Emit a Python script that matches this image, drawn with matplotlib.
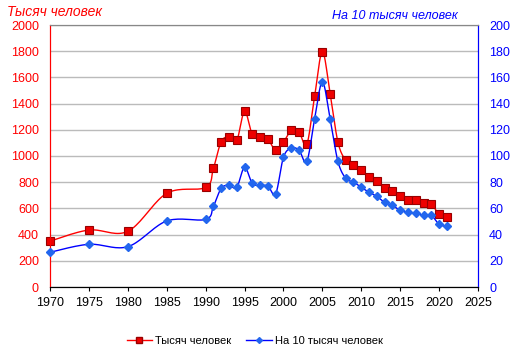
import numpy as np
import matplotlib
matplotlib.use("Agg")
from matplotlib import pyplot as plt

plt.rcParams['font.family'] = ['Liberation Sans', 'DejaVu Sans']

years = [1970, 1975, 1980, 1985, 1990, 1991, 1992, 1993, 1994, 1995, 1996, 1997,
         1998, 1999, 2000, 2001, 2002, 2003, 2004, 2005, 2006, 2007, 2008, 2009,
         2010, 2011, 2012, 2013, 2014, 2015, 2016, 2017, 2018, 2019, 2020, 2021]
thousands = [350, 435, 425, 715, 760, 906, 1109, 1145, 1119, 1340, 1165, 1145,
             1127, 1045, 1106, 1195, 1183, 1089, 1455, 1795, 1473, 1106, 967, 928,
             890, 837, 806, 753, 730, 692, 661, 661, 641, 633, 555, 532]
per_10k = [26.5, 32.6, 30.8, 50.4, 51.6, 61.6, 75.3, 77.6, 76.1, 91.3, 79.1, 77.6,
           77.1, 71.2, 99.0, 106.0, 104.5, 95.9, 128.0, 156.5, 128.0, 95.9, 83.0, 80.1,
           76.1, 72.3, 69.2, 64.6, 62.3, 58.5, 57.0, 56.2, 54.7, 54.7, 47.8, 46.3]
xticks = list(range(1970, 2030, 5))


def smooth(x, y, n=20):
    # Bezier smoothing between points, like a spreadsheet "smooth line"
    x = np.asarray(x, float)
    y = np.asarray(y, float)
    px, py = [], []
    for i in range(len(x) - 1):
        x0, y0 = (x[i - 1], y[i - 1]) if i > 0 else (x[i], y[i])
        x3, y3 = (x[i + 2], y[i + 2]) if i + 2 < len(x) else (x[i + 1], y[i + 1])
        c1x = x[i] + (x[i + 1] - x0) / 6
        c1y = y[i] + (y[i + 1] - y0) / 6
        c2x = x[i + 1] - (x3 - x[i]) / 6
        c2y = y[i + 1] - (y3 - y[i]) / 6
        t = np.linspace(0, 1, n)
        px.extend((1 - t) ** 3 * x[i] + 3 * (1 - t) ** 2 * t * c1x + 3 * (1 - t) * t ** 2 * c2x + t ** 3 * x[i + 1])
        py.extend((1 - t) ** 3 * y[i] + 3 * (1 - t) ** 2 * t * c1y + 3 * (1 - t) * t ** 2 * c2y + t ** 3 * y[i + 1])
    return px, py


fig = plt.figure(figsize=(5.23, 3.58), dpi=100)
ax = fig.add_axes([50 / 523, 1 - 287 / 358, 428 / 523, 262 / 358])
ax2 = ax.twinx()

sx, sy = smooth(years, thousands)
ax.plot(sx, sy, '-', color='#ff0000', lw=1, zorder=3)
ax.plot(years, thousands, 's', color='#ee0000', mec='#990000', mew=0.8, ms=6,
        zorder=4, clip_on=False)

bx, by = smooth(years, per_10k)
ax2.plot(bx, by, '-', color='#0000ff', lw=1, zorder=3)
ax2.plot(years, per_10k, 'D', color='#2266ee', mec='#2266ee', ms=4, zorder=4,
         clip_on=False)

ax.set_xlim(1970, 2025)
ax.set_ylim(0, 2000)
ax2.set_ylim(0, 200)
ax.set_xticks(xticks)
ax.set_yticks(range(0, 2001, 200))
ax2.set_yticks(range(0, 201, 20))
ax.yaxis.grid(True, color='#bbbbbb', lw=1)
ax.set_axisbelow(True)

ax.tick_params(axis='y', colors='#ff0000', labelsize=9, length=0, pad=8)
ax2.tick_params(axis='y', colors='#0000ff', labelsize=9, length=0, pad=8)
ax.tick_params(axis='x', colors='black', labelsize=9, length=3, direction='out', pad=4)
ax.spines['top'].set_color('#888888')
ax2.spines['top'].set_color('#888888')
ax.spines['left'].set_color('#ff0000')
ax2.spines['left'].set_color('#ff0000')
ax2.spines['right'].set_color('#0000ff')
ax.spines['right'].set_color('#0000ff')
ax.spines['bottom'].set_color('black')
ax2.spines['bottom'].set_color('black')

fig.text(7 / 523, 1 - 12 / 358, 'Тысяч человек', color='#ff0000', style='italic',
         fontsize=10, va='center', ha='left')
fig.text(458 / 523, 1 - 16 / 358, 'На 10 тысяч человек', color='#0000ff', style='italic',
         fontsize=9, va='center', ha='right')

h1, = ax.plot([], [], '-s', color='#ff0000', mfc='#ee0000', mec='#990000', ms=5, lw=1)
h2, = ax.plot([], [], '-D', color='#0000ff', mfc='#2266ee', mec='#2266ee', ms=3, lw=1)
fig.legend([h1, h2], ['Тысяч человек', 'На 10 тысяч человек'], loc='center',
           bbox_to_anchor=(0.487, 1 - 341 / 358), ncol=2, frameon=False, fontsize=8,
           handlelength=2.3, columnspacing=1.3, handletextpad=0.3)

plt.savefig('out.png', dpi=100)
